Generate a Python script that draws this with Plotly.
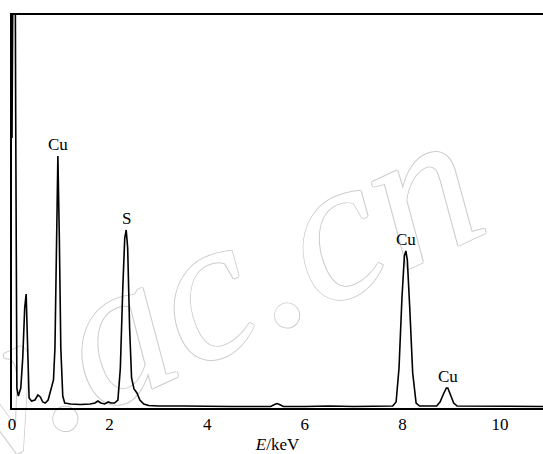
import numpy as np
import plotly.graph_objects as go

# EDS spectrum (energy in keV, intensity in arbitrary units)
energy = [0.00, 0.02, 0.05, 0.075, 0.085, 0.10, 0.13, 0.18, 0.22, 0.26, 0.29, 0.32, 0.35,
          0.40, 0.47, 0.53, 0.58, 0.63, 0.68, 0.74, 0.80, 0.85, 0.88, 0.91, 0.94, 0.97,
          1.00, 1.04, 1.08, 1.20, 1.40, 1.60, 1.70, 1.76, 1.82, 1.90, 1.97, 2.03, 2.10,
          2.17, 2.22, 2.27, 2.31, 2.34, 2.37, 2.41, 2.45, 2.50, 2.56, 2.62, 2.70, 2.80,
          3.00, 3.50, 4.00, 4.50, 5.00, 5.30, 5.38, 5.43, 5.48, 5.56, 6.00, 6.50, 7.00,
          7.50, 7.80, 7.87, 7.93, 7.99, 8.04, 8.07, 8.10, 8.15, 8.21, 8.28, 8.35, 8.70,
          8.77, 8.84, 8.90, 8.93, 8.98, 9.05, 9.12, 9.50, 10.00, 10.50, 10.90]
intensity = [270, 700, 700, 300, 60, 20, 12, 20, 50, 100, 114, 60, 10,
             7, 8, 13, 11, 6, 5, 8, 18, 28, 60, 170, 252, 170,
             60, 12, 5, 4, 3.5, 4, 5, 7, 5, 4, 6, 5, 5,
             8, 40, 120, 170, 178, 160, 80, 30, 19, 15, 8, 4, 2.5,
             2, 2, 1.5, 1.5, 1.5, 1.5, 3.5, 4.5, 3.5, 1.5, 1.5, 2, 1.5,
             1.5, 2, 6, 40, 110, 152, 157, 148, 100, 35, 5, 2, 2,
             6, 14, 20, 20, 14, 5, 2, 2, 1.5, 2, 1.5]

peak_energy = [0.94, 2.34, 8.07, 8.93]
peak_label = ["Cu", "S", "Cu", "Cu"]

tick_vals = [0, 2, 4, 6, 8, 10]
tick_text = ["0", "2", "4", "6", "8", "10"]

x_title = "<i>E</i>/keV"
watermark = "www.ac.cn"

SERIF = "Liberation Serif, Times New Roman, serif"

fig = go.Figure()
fig.add_trace(go.Scatter(
    x=energy, y=intensity, mode="lines",
    line=dict(color="black", width=1.6),
    hoverinfo="skip", showlegend=False,
))

e_arr = np.array(energy)
i_arr = np.array(intensity)
for pe, lab in zip(peak_energy, peak_label):
    near = np.abs(e_arr - pe) < 0.05
    top = float(i_arr[near].max())
    fig.add_annotation(
        x=pe, y=top, text=lab, showarrow=False,
        xanchor="center", yanchor="bottom", yshift=0,
        font=dict(family=SERIF, size=17, color="black"),
    )

# faint outlined watermark, drawn beneath the spectrum
fig.add_shape(
    type="line", xref="paper", yref="paper",
    x0=-0.0902, y0=0.083, x1=0.251, y1=0.298,
    line=dict(width=0, color="rgba(0,0,0,0)"),
    layer="below",
    label=dict(
        text=watermark, textposition="middle", textangle=-25,
        xanchor="center", yanchor="middle",
        font=dict(family=SERIF, size=205, style="italic", color="white",
                  shadow="1px 0 0 #cccccc, -1px 0 0 #cccccc, 0 1px 0 #cccccc, 0 -1px 0 #cccccc"),
    ),
)

fig.update_layout(
    width=543, height=454,
    margin=dict(l=12, r=0, t=15, b=46, autoexpand=False),
    paper_bgcolor="white", plot_bgcolor="rgba(0,0,0,0)",
    font=dict(family=SERIF, size=17, color="black"),
    showlegend=False,
)
fig.update_xaxes(
    range=[0, 10.88], showgrid=False, zeroline=False, automargin=False,
    showline=True, linecolor="black", linewidth=1.6, mirror=True,
    ticks="", ticklen=0, tickvals=tick_vals, ticktext=tick_text,
    tickfont=dict(family=SERIF, size=17, color="black"),
    title=dict(text=x_title, font=dict(family=SERIF, size=17, color="black"), standoff=6),
)
fig.update_yaxes(
    range=[0, 393], showgrid=False, zeroline=False, automargin=False,
    showline=True, linecolor="black", linewidth=1.6, mirror=False,
    ticks="", showticklabels=False,
)

fig.write_html("out.html", config={"displayModeBar": False},
               post_script="document.body.style.margin='0';")
